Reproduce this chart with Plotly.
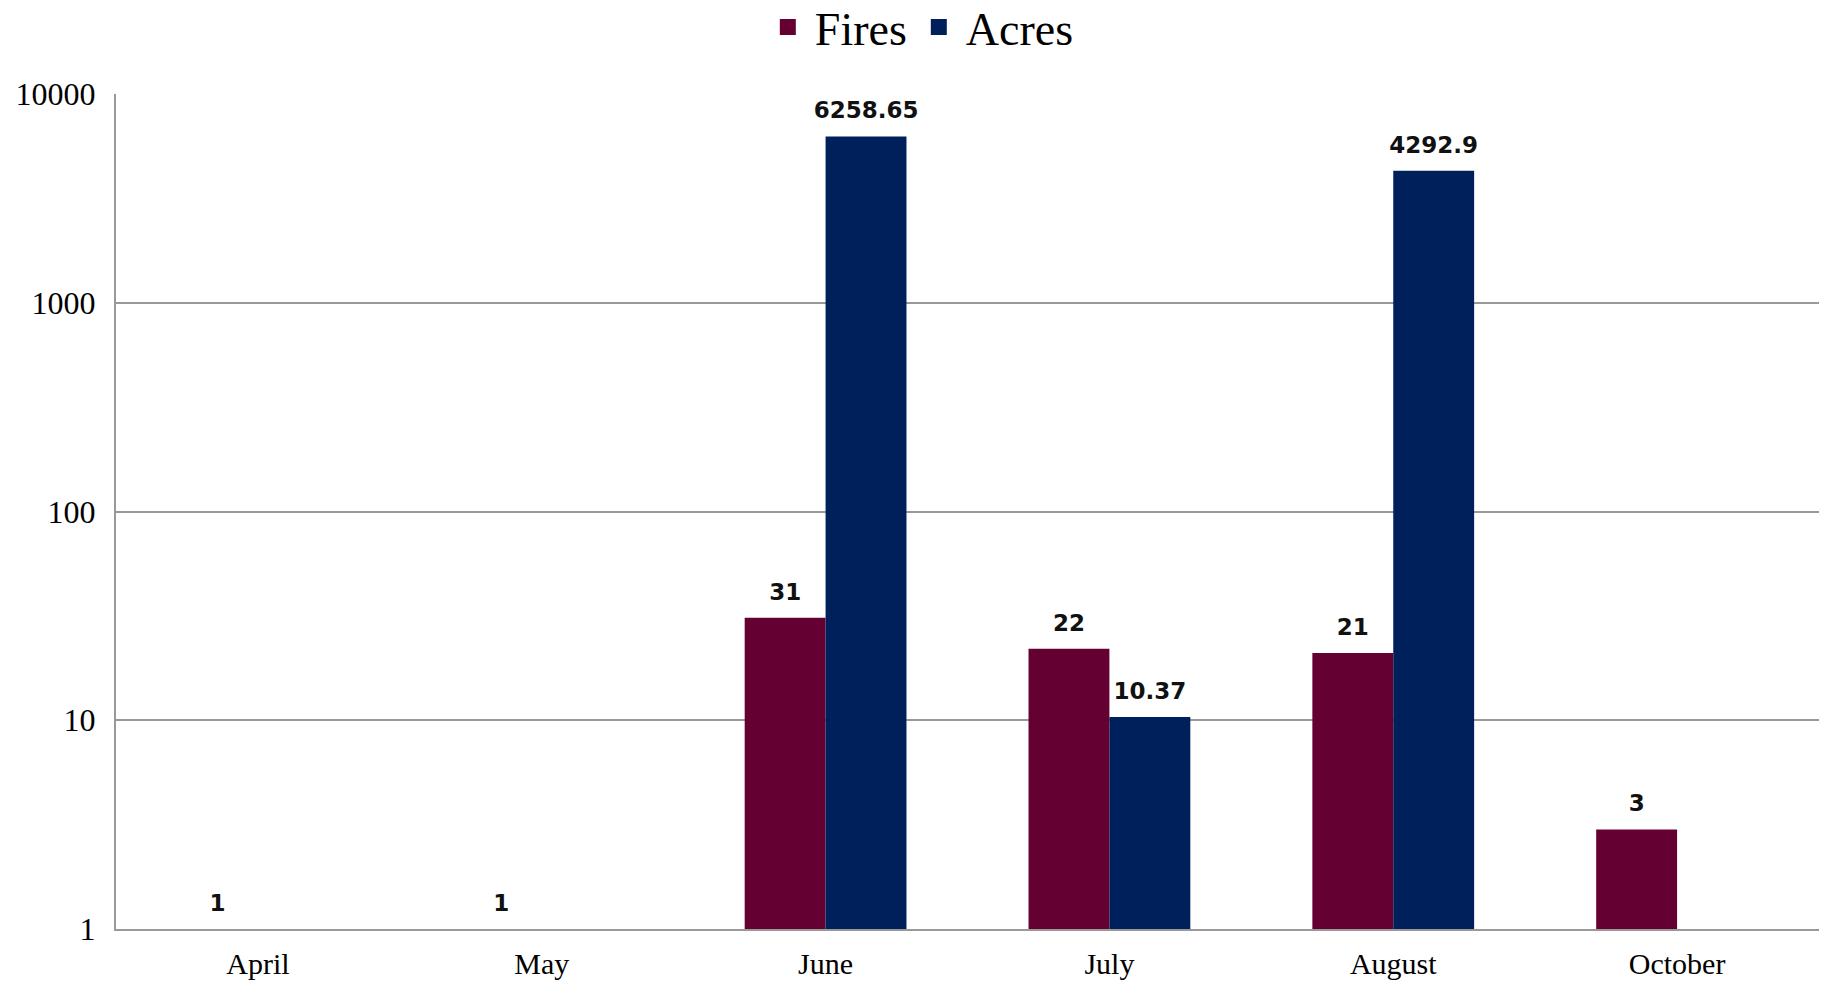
import plotly.graph_objects as go

months = ["April", "May", "June", "July", "August", "October"]
fires = [1, 1, 31, 22, 21, 3]
acres = [None, None, 6258.65, 10.37, 4292.9, None]
fires_labels = ["1", "1", "31", "22", "21", "3"]
acres_labels = ["", "", "6258.65", "10.37", "4292.9", ""]
y_ticks = [1, 10, 100, 1000, 10000]

FIRE_COLOR = "#650032"
ACRE_COLOR = "#00205B"
label_font = dict(family="DejaVu Sans", size=23, color="#111111", weight="bold")
GAP = 0.43

fig = go.Figure()
for nm, vals, labels, col in (("Fires", fires, fires_labels, FIRE_COLOR),
                              ("Acres", acres, acres_labels, ACRE_COLOR)):
    fig.add_trace(go.Bar(
        name=nm, x=months, y=vals, marker=dict(color=col, line=dict(width=0)),
        offsetgroup=nm, showlegend=False, hoverinfo="x+y",
    ))
for nm, vals, labels, col in (("Fires", fires, fires_labels, FIRE_COLOR),
                              ("Acres", acres, acres_labels, ACRE_COLOR)):
    fig.add_trace(go.Scatter(
        name=nm + " labels", x=months, y=vals, mode="markers+text", text=labels,
        marker=dict(size=18, opacity=0, color=col),
        textposition="top center", textfont=label_font, offsetgroup=nm,
        cliponaxis=False, showlegend=False, hoverinfo="skip",
    ))
# legend entries with larger square symbols
for nm, col in (("Fires", FIRE_COLOR), ("Acres", ACRE_COLOR)):
    fig.add_trace(go.Scatter(
        name=nm, x=[None], y=[None], mode="markers",
        marker=dict(symbol="square", size=25, color=col), showlegend=True,
    ))

fig.update_layout(
    width=1825, height=983,
    paper_bgcolor="white", plot_bgcolor="white",
    barmode="group", bargap=GAP, bargroupgap=0,
    scattermode="group", scattergap=GAP,
    margin=dict(l=116, r=6, t=94, b=54, autoexpand=False),
    font=dict(family="Liberation Serif", color="black"),
    legend=dict(orientation="h", x=0.472, xanchor="center", y=1.080, yanchor="middle",
                font=dict(family="Liberation Serif", size=46, color="black"),
                itemwidth=44, tracegroupgap=0),
)
fig.update_xaxes(
    showgrid=False, showline=True, linecolor="#999999", linewidth=2,
    tickfont=dict(family="Liberation Serif", size=30, color="black"),
    ticks="", ticklabelstandoff=7,
)
fig.update_yaxes(
    type="log", range=[0, 4], tickvals=y_ticks, ticktext=[str(v) for v in y_ticks],
    showgrid=True, gridcolor="#999999", gridwidth=1.5,
    showline=True, linecolor="#999999", linewidth=2,
    zeroline=False,
    tickfont=dict(family="Liberation Serif", size=32, color="black"),
    ticks="", ticklabelstandoff=12,
)

fig.write_html("out.html", config={"displayModeBar": False},
               post_script="document.body.style.margin='0';document.body.style.overflow='hidden';")
